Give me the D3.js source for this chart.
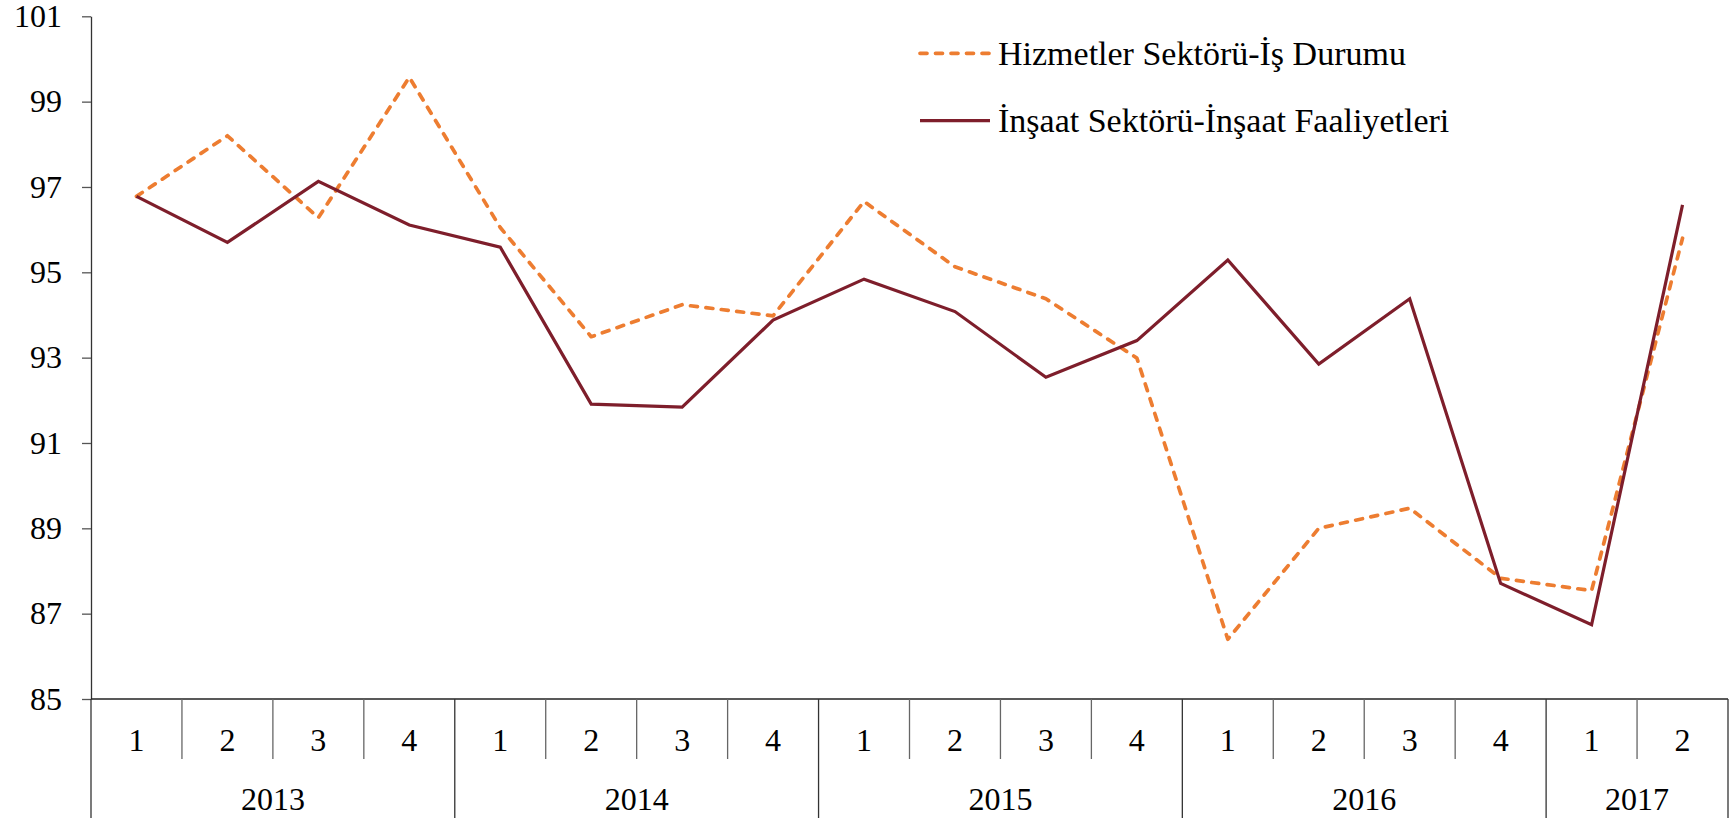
<!DOCTYPE html>
<html lang="tr">
<head>
<meta charset="UTF-8">
<title>Hizmetler ve İnşaat Sektörü</title>
<script src="https://cdn.jsdelivr.net/npm/d3@7/dist/d3.min.js"></script>
<style>
  * { margin: 0; padding: 0; box-sizing: border-box; }
  body { background: #fff; overflow: hidden; }
  svg { display: block; font-family: 'Liberation Serif', 'DejaVu Serif', serif; }
  .axis text { fill: #000; }
</style>
</head>
<body>
<div id="chart"></div>
<script>
// ─── Data ───────────────────────────────────────────────────────────────────
const quarterLabels = ['1','2','3','4','1','2','3','4','1','2','3','4','1','2','3','4','1','2'];
const quarterYears  = ['2013','2013','2013','2013','2014','2014','2014','2014','2015','2015','2015','2015',
                       '2016','2016','2016','2016','2017','2017'];
const yearLabels    = ['2013','2014','2015','2016','2017'];

const hizmetler = [96.78, 98.20, 96.28, 99.57, 96.05, 93.49, 94.24, 93.98, 96.66, 95.13, 94.38, 92.99,
                   86.40, 89.00, 89.47, 87.83, 87.54, 95.80];
const insaat    = [96.78, 95.70, 97.13, 96.11, 95.59, 91.91, 91.84, 93.88, 94.84, 94.08, 92.54, 93.40,
                   95.29, 92.85, 94.38, 87.71, 86.74, 96.58];

const yTicks = [85, 87, 89, 91, 93, 95, 97, 99, 101];

const seriesNames = ['Hizmetler Sektörü-İş Durumu', 'İnşaat Sektörü-İnşaat Faaliyetleri'];

// ─── Layout ─────────────────────────────────────────────────────────────────
const W = 1735, H = 818;
const margin = { top: 16.3, right: 7, bottom: 119, left: 91 };
const FS = 32;
const ORANGE = '#ED7D31', MAROON = '#7E1E2B';

const svg = d3.select('#chart').append('svg')
  .attr('width', W).attr('height', H);

const idx = quarterLabels.map((_, i) => i);

const x = d3.scaleBand()
  .domain(idx)
  .range([margin.left, W - margin.right])
  .paddingInner(0).paddingOuter(0);

const y = d3.scaleLinear()
  .domain([85, 101])
  .range([H - margin.bottom, margin.top]);

const cx = i => x(i) + x.bandwidth() / 2;

// ─── Y axis ─────────────────────────────────────────────────────────────────
const yAxis = svg.append('g')
  .attr('class', 'axis')
  .attr('transform', `translate(${margin.left},0)`)
  .call(d3.axisLeft(y).tickValues(yTicks).tickSize(9).tickPadding(20).tickSizeOuter(0).tickFormat(d3.format('d')));

yAxis.selectAll('text').attr('font-size', FS).attr('font-family', 'Liberation Serif, serif');
yAxis.selectAll('line').attr('stroke', '#555').attr('stroke-width', 1.3);
yAxis.select('.domain').attr('stroke', '#333').attr('stroke-width', 1.3);

// ─── Category axis (quarters + years) ───────────────────────────────────────
const y0 = y(85);
const qBottom = 759;
const gx = svg.append('g').attr('class', 'axis');

gx.append('line')
  .attr('x1', x(0)).attr('x2', x(idx.length - 1) + x.bandwidth())
  .attr('y1', y0).attr('y2', y0)
  .attr('stroke', '#222').attr('stroke-width', 1.5);

// divider before each quarter; full height at year starts
const boundaries = idx.concat([idx.length]);
const isYearEdge = i => i === idx.length || i === 0 || quarterYears[i] !== quarterYears[i - 1];
gx.selectAll('line.div')
  .data(boundaries)
  .enter().append('line')
  .attr('class', 'div')
  .attr('x1', i => i < idx.length ? x(i) : x(i - 1) + x.bandwidth())
  .attr('x2', i => i < idx.length ? x(i) : x(i - 1) + x.bandwidth())
  .attr('y1', y0)
  .attr('y2', i => isYearEdge(i) ? H : qBottom)
  .attr('stroke', i => isYearEdge(i) ? '#333' : '#666')
  .attr('stroke-width', 1.3);

gx.selectAll('text.q')
  .data(idx)
  .enter().append('text')
  .attr('class', 'q')
  .attr('x', cx)
  .attr('y', 740)
  .attr('dy', '0.33em')
  .attr('text-anchor', 'middle')
  .attr('font-size', FS)
  .text(i => quarterLabels[i]);

gx.selectAll('text.yr')
  .data(yearLabels)
  .enter().append('text')
  .attr('class', 'yr')
  .attr('x', yr => {
    const members = idx.filter(i => quarterYears[i] === yr);
    return (x(members[0]) + x(members[members.length - 1]) + x.bandwidth()) / 2;
  })
  .attr('y', 799)
  .attr('dy', '0.33em')
  .attr('text-anchor', 'middle')
  .attr('font-size', FS)
  .text(d => d);

// ─── Lines ──────────────────────────────────────────────────────────────────
const line = d3.line()
  .x((d, i) => cx(i))
  .y(d => y(d));

svg.append('path')
  .datum(hizmetler)
  .attr('fill', 'none')
  .attr('stroke', ORANGE)
  .attr('stroke-width', 3.7)
  .attr('stroke-linecap', 'round')
  .attr('stroke-linejoin', 'round')
  .attr('stroke-dasharray', '7,8.5')
  .attr('d', line);

svg.append('path')
  .datum(insaat)
  .attr('fill', 'none')
  .attr('stroke', MAROON)
  .attr('stroke-width', 3.2)
  .attr('stroke-linejoin', 'miter')
  .attr('d', line);

// ─── Legend ─────────────────────────────────────────────────────────────────
const legend = svg.append('g').attr('transform', 'translate(920,0)');
const legendRows = [
  { name: seriesNames[0], color: ORANGE, dash: '7,8.5', cap: 'round', yPos: 53.3 },
  { name: seriesNames[1], color: MAROON, dash: null, cap: 'butt', yPos: 120.7 },
];

legendRows.forEach(r => {
  legend.append('line')
    .attr('x1', 0).attr('x2', 70)
    .attr('y1', r.yPos).attr('y2', r.yPos)
    .attr('stroke', r.color)
    .attr('stroke-width', r.dash ? 3.7 : 3.2)
    .attr('stroke-linecap', r.cap)
    .attr('stroke-dasharray', r.dash);
  legend.append('text')
    .attr('x', 78)
    .attr('y', r.yPos)
    .attr('dy', '0.33em')
    .attr('font-size', 34)
    .attr('fill', '#000')
    .text(r.name);
});
</script>
</body>
</html>
